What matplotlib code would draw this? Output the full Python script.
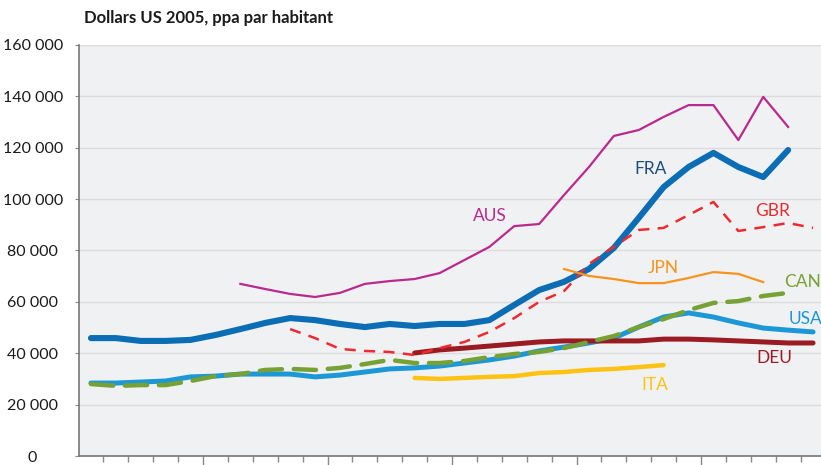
import matplotlib
matplotlib.use("Agg")
import matplotlib.pyplot as plt
import numpy as np

plt.rcParams['font.family'] = ['Lato', 'DejaVu Sans']
plt.rcParams['lines.scale_dashes'] = False

n_periods = 30
periods = list(range(n_periods))

# series values (None = no data)
fra = [45900, 45900, 44800, 44800, 45200, 47100, 49400, 51800, 53700, 52900,
       51400, 50200, 51400, 50600, 51400, 51400, 52900, 58800, 64600, 67800,
       72800, 81000, 92700, 104700, 112500, 118000, 112500, 108600, 119100, None]
aus = [None]*6 + [67000, 65000, 63100, 61900, 63500, 67000, 68100, 68900, 71200,
                  76300, 81400, 89500, 90300, 101600, 112500, 124600, 126900, 132000,
                  136600, 136600, 123000, 139800, 128100, None]
gbr = [None]*8 + [49400, 45900, 41700, 40900, 40500, 39300, 42000, 44400, 48300,
                  53700, 60000, 64200, 74700, 81400, 88000, 88800, 93800, 98900,
                  87600, 89100, 90700, 88800]
jpn = [None]*19 + [72800, 70100, 68900, 67300, 67300, 69300, 71600, 70900, 67700, None, None]
can = [28000, 27300, 27600, 27600, 29200, 31100, 31900, 33500, 33900, 33500,
       34300, 35800, 37400, 36200, 36200, 37000, 38500, 39700, 40500, 42000,
       44400, 46700, 50200, 53300, 56800, 59600, 60300, 62300, 63500, None]
usa = [28400, 28400, 28800, 29200, 30800, 31100, 31900, 31900, 31900, 30800,
       31500, 32700, 33900, 34300, 35000, 36200, 37400, 38900, 40900, 42400,
       44000, 45900, 50200, 54100, 55700, 54100, 51800, 49800, 49000, 48300]
deu = [None]*13 + [40100, 41300, 42000, 42800, 43600, 44400, 44800, 44800, 44800,
                   44800, 45500, 45500, 45200, 44800, 44400, 44000, 44000]
ita = [None]*13 + [30400, 30000, 30400, 30800, 31100, 32300, 32700, 33500, 33900,
                   34600, 35400, None, None, None, None, None, None]

y_ticks = [0, 20000, 40000, 60000, 80000, 100000, 120000, 140000, 160000]
y_tick_labels = ["0", "20 000", "40 000", "60 000", "80 000", "100 000",
                 "120 000", "140 000", "160 000"]
title = "Dollars US 2005, ppa par habitant"

def arr(v):
    return np.array([np.nan if x is None else x for x in v], dtype=float)

W, H = 821, 465
fig = plt.figure(figsize=(W/100, H/100), dpi=100)
fig.patch.set_facecolor('white')
ax = fig.add_axes([78.5/W, 9/H, (825.5-78.5)/W, 411/H])
ax.set_facecolor('#f0f1f3')

x = np.array(periods)
ax.plot(x, arr(fra), color='#0b6db4', lw=4.4, solid_capstyle='round', solid_joinstyle='round', zorder=3)
ax.plot(x, arr(usa), color='#1d98d7', lw=3.6, solid_capstyle='round', solid_joinstyle='round', zorder=3)
ax.plot(x, arr(deu), color='#9a1c22', lw=3.6, solid_capstyle='round', solid_joinstyle='round', zorder=4)
ax.plot(x, arr(ita), color='#fec212', lw=3.2, solid_capstyle='round', solid_joinstyle='round', zorder=4)
ax.plot(x, arr(can), color='#76a235', lw=3.2, dashes=(16, 8.5), dash_capstyle='round', zorder=5)
ax.plot(x, arr(gbr), color='#ee2a30', lw=1.8, dashes=(8, 6), dash_capstyle='butt', zorder=6)
ax.plot(x, arr(aus), color='#b9298f', lw=1.6, zorder=6)
ax.plot(x, arr(jpn), color='#f7941e', lw=1.6, zorder=6)

ax.set_ylim(0, 160000)
ax.set_xlim(-0.5, 29.5)
ax.set_yticks(y_ticks)
ax.set_yticklabels(y_tick_labels)
ax.yaxis.grid(True, color='#dcdcde', lw=1.0)
ax.set_axisbelow(True)
for t in ax.get_yticklabels():
    t.set_horizontalalignment('center')
ax.tick_params(axis='y', length=3, color='#888888', pad=30, labelsize=11.5, labelcolor='#1a1a1a')

major = [b - 0.5 for b in range(5, 31, 5)]
minor = [b - 0.5 for b in range(1, 31) if b % 5 != 0]
ax.set_xticks(major)
ax.set_xticks(minor, minor=True)
ax.set_xticklabels([])
ax.tick_params(axis='x', which='major', length=7, color='#888888', width=1)
ax.tick_params(axis='x', which='minor', length=4, color='#888888', width=1)

for s in ['top', 'right']:
    ax.spines[s].set_visible(False)
ax.spines['left'].set_color('#777777')
ax.spines['bottom'].set_color('#777777')
ax.spines['left'].set_linewidth(1.2)
ax.spines['bottom'].set_linewidth(1.2)

fig.text(84/W, 1 - 18/H, title, fontsize=12, fontweight='bold', va='center', ha='left', color='#1a1a1a')

labels = [("AUS", 16.03, 93400, '#b9298f'),
          ("FRA", 22.49, 111700, '#1d4e7a'),
          ("GBR", 27.39, 95400, '#ee2a30'),
          ("JPN", 22.97, 73200, '#f7941e'),
          ("CAN", 28.56, 67700, '#76a235'),
          ("USA", 28.68, 53300, '#1d98d7'),
          ("DEU", 27.43, 38150, '#9a1c22'),
          ("ITA", 22.65, 27600, '#fec212')]
for name, lx, ly, c in labels:
    ax.text(lx, ly, name, color=c, fontsize=12.5, ha='center', va='center')

fig.savefig("out.png", dpi=100)
